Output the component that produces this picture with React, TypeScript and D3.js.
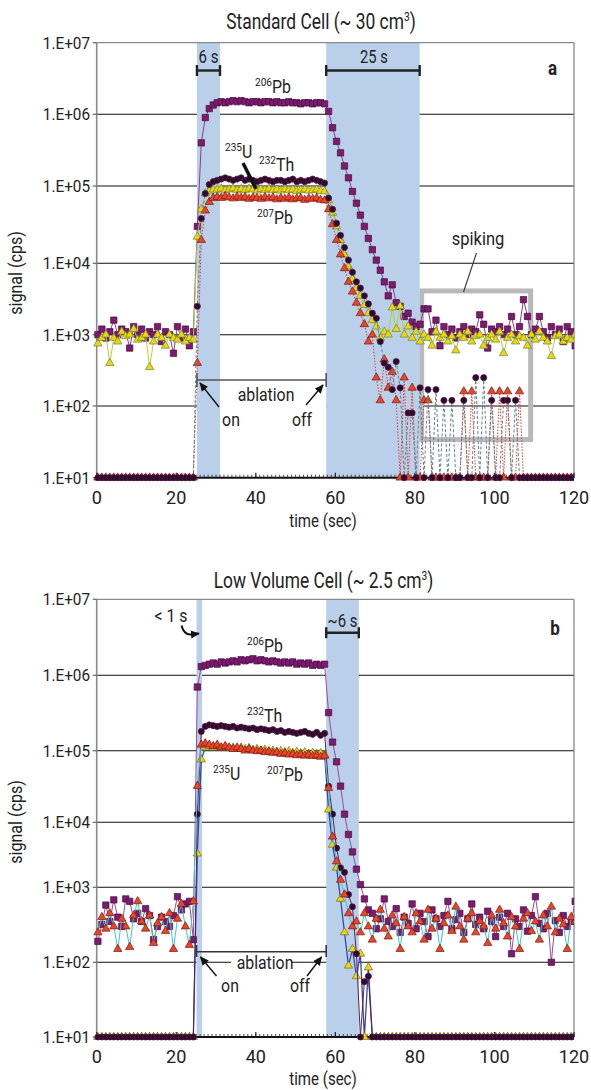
import React from "react";
import * as d3 from "d3";

// ---------- DATA (1 sample per second, first sample at t0 = 0.3 s) ----------
const TIME_STEP = 1;
const TIME_START = 0.3;
const TICKS_X = [0, 20, 40, 60, 80, 100, 120];
const DECADES = [1e1, 1e2, 1e3, 1e4, 1e5, 1e6, 1e7];
const TICK_LABELS_Y = ["1.E+01", "1.E+02", "1.E+03", "1.E+04", "1.E+05", "1.E+06", "1.E+07"];

// Panel a – Standard cell
const PB206_A = [
  1000, 1200, 900, 1100, 1600, 1000, 1200, 1100, 650, 1300,
  1000, 1200, 900, 1100, 1000, 1300, 800, 1100, 1000, 550,
  1300, 900, 1200, 700, 1100, 3.0e4, 4.0e5, 9.0e5, 1.2e6, 1.35e6,
  1.45e6, 1.5e6, 1.45e6, 1.5e6, 1.55e6, 1.5e6, 1.55e6, 1.5e6, 1.45e6, 1.5e6,
  1.5e6, 1.45e6, 1.5e6, 1.5e6, 1.45e6, 1.5e6, 1.45e6, 1.45e6, 1.5e6, 1.45e6,
  1.45e6, 1.4e6, 1.45e6, 1.45e6, 1.4e6, 1.45e6, 1.45e6, 1.4e6, 1.1e6, 6.5e5,
  4.2e5, 2.9e5, 1.9e5, 1.3e5, 8.5e4, 6.0e4, 4.2e4, 3.0e4, 2.1e4, 1.5e4,
  1.1e4, 8.0e3, 5.5e3, 3.5e3, 5.0e3, 2.8e3, 2.5e3, 1.8e3, 2.0e3, 1.5e3,
  1300, 1400, 2300, 2300, 1100, 1600, 700, 1300, 1000, 1200,
  900, 1100, 1300, 1000, 1200, 1100, 1900, 1400, 650, 1200,
  1100, 1300, 1000, 1200, 1800, 1000, 1300, 3100, 1800, 1000,
  1200, 1800, 1100, 900, 1300, 1000, 1200, 800, 1300, 1100,
  700,
];
const U235_A = [
  750, 900, 1000, 400, 900, 800, 1100, 950, 1000, 1200,
  850, 900, 1000, 350, 800, 1000, 900, 700, 1000, 900,
  850, 1000, 800, 900, 850, 2.2e4, 5.0e4, 8.0e4, 8.5e4, 9.0e4,
  9.0e4, 9.2e4, 8.8e4, 9.0e4, 9.3e4, 8.9e4, 9.1e4, 8.8e4, 9.2e4, 9.0e4,
  8.7e4, 9.1e4, 8.9e4, 9.2e4, 8.8e4, 9.0e4, 8.7e4, 9.1e4, 8.8e4, 9.0e4,
  8.6e4, 8.9e4, 9.0e4, 8.7e4, 8.8e4, 9.0e4, 8.6e4, 8.5e4, 6.5e4, 4.5e4,
  3.0e4, 2.0e4, 1.3e4, 9.0e3, 6.0e3, 4.5e3, 3.5e3, 2.6e3, 2.0e3, 1.6e3,
  1300, 900, 1100, 1000, 2400, 1200, 2500, 1000, 1300, 900,
  1100, 800, 1000, 900, 700, 1100, 900, 1000, 800, 950,
  600, 1000, 900, 1100, 800, 950, 1000, 700, 900, 1000,
  850, 1100, 550, 900, 1000, 800, 950, 900, 700, 1000,
  850, 1100, 900, 800, 500, 950, 1000, 800, 900, 850,
  1000,
];
const TH232_A = [
  0, 0, 0, 0, 0, 0, 0, 0, 0, 0,
  0, 0, 0, 0, 0, 0, 0, 0, 0, 0,
  0, 0, 0, 0, 0, 2.5e3, 3.8e4, 8.0e4, 1.05e5, 1.15e5,
  1.2e5, 1.25e5, 1.3e5, 1.25e5, 1.2e5, 1.25e5, 1.3e5, 1.2e5, 1.25e5, 1.2e5,
  1.15e5, 1.2e5, 1.25e5, 1.2e5, 1.15e5, 1.2e5, 1.2e5, 1.15e5, 1.2e5, 1.25e5,
  1.15e5, 1.2e5, 1.15e5, 1.2e5, 1.25e5, 1.2e5, 1.15e5, 1.1e5, 7.0e4, 5.0e4,
  3.3e4, 2.3e4, 1.6e4, 1.1e4, 7.5e3, 5.5e3, 4.5e3, 3.5e3, 2.7e3, 2.0e3,
  1700, 800, 400, 350, 170, 420, 180, 0, 80, 80,
  0, 180, 0, 170, 0, 170, 0, 120, 0, 120,
  0, 0, 120, 0, 0, 250, 0, 250, 0, 120,
  0, 0, 120, 120, 0, 120, 0, 0, 0, 0,
  0, 0, 0, 0, 0, 0, 0, 0, 0, 0,
  0,
];
const PB207_A = [
  0, 0, 0, 0, 0, 0, 0, 0, 0, 0,
  0, 0, 0, 0, 0, 0, 0, 0, 0, 0,
  0, 0, 0, 0, 0, 400, 2.0e4, 4.8e4, 6.2e4, 7.0e4,
  7.2e4, 7.0e4, 7.4e4, 7.1e4, 6.9e4, 7.3e4, 7.0e4, 7.2e4, 6.8e4, 7.1e4,
  7.0e4, 6.8e4, 7.2e4, 6.9e4, 7.1e4, 6.7e4, 7.0e4, 6.8e4, 7.1e4, 6.7e4,
  6.9e4, 7.0e4, 6.6e4, 6.9e4, 6.8e4, 7.0e4, 6.6e4, 6.5e4, 5.0e4, 3.2e4,
  2.0e4, 1.3e4, 8.5e3, 5.5e3, 4.0e3, 2.8e3, 2.0e3, 1.4e3, 800, 1000,
  250, 120, 450, 180, 300, 120, 0, 250, 0, 180,
  0, 0, 120, 120, 0, 0, 0, 0, 0, 0,
  0, 0, 160, 0, 160, 0, 0, 0, 0, 160,
  0, 160, 0, 160, 0, 0, 160, 0, 0, 0,
  0, 0, 0, 0, 0, 0, 0, 0, 0, 0,
  0,
];

// Panel b – Low volume cell
const PB206_B = [
  190, 320, 580, 350, 680, 400, 300, 700, 650, 380,
  450, 350, 520, 420, 200, 300, 400, 350, 300, 420,
  750, 500, 600, 650, 200, 7.0e5, 1.3e6, 1.35e6, 1.4e6, 1.45e6,
  1.4e6, 1.5e6, 1.45e6, 1.5e6, 1.55e6, 1.5e6, 1.6e6, 1.55e6, 1.6e6, 1.65e6,
  1.55e6, 1.6e6, 1.55e6, 1.5e6, 1.55e6, 1.5e6, 1.45e6, 1.5e6, 1.45e6, 1.5e6,
  1.4e6, 1.45e6, 1.4e6, 1.45e6, 1.35e6, 1.4e6, 1.35e6, 1.4e6, 3.2e5, 1.3e5,
  7.0e4, 3.2e4, 1.3e4, 6.5e3, 3.5e3, 1.9e3, 1.1e3, 700, 500, 450,
  280, 380, 700, 350, 300, 520, 250, 400, 330, 600,
  280, 450, 350, 220, 500, 380, 300, 420, 650, 280,
  370, 450, 250, 380, 600, 320, 400, 280, 480, 350,
  220, 400, 300, 450, 130, 380, 300, 500, 260, 420,
  750, 330, 280, 450, 100, 360, 250, 420, 300, 350,
  650,
];
const TH232_B = [
  0, 0, 0, 0, 0, 0, 0, 0, 0, 0,
  0, 0, 0, 0, 0, 0, 0, 0, 0, 0,
  0, 0, 0, 0, 0, 1.3e4, 1.8e5, 2.1e5, 2.2e5, 2.15e5,
  2.1e5, 2.15e5, 2.1e5, 2.05e5, 2.1e5, 2.0e5, 2.05e5, 2.0e5, 1.95e5, 2.0e5,
  1.9e5, 1.95e5, 1.9e5, 1.85e5, 1.9e5, 1.8e5, 1.85e5, 1.75e5, 1.8e5, 1.75e5,
  1.7e5, 1.75e5, 1.8e5, 1.7e5, 1.65e5, 1.75e5, 1.6e5, 1.7e5, 3.2e4, 1.3e4,
  4.0e3, 2.0e3, 1.7e3, 800, 550, 130, 0, 55, 65, 0,
  0, 0, 0, 0, 0, 0, 0, 0, 0, 0,
  0, 0, 0, 0, 0, 0, 0, 0, 0, 0,
  0, 0, 0, 0, 0, 0, 0, 0, 0, 0,
  0, 0, 0, 0, 0, 0, 0, 0, 0, 0,
  0, 0, 0, 0, 0, 0, 0, 0, 0, 0,
  0,
];
const U235_B = [
  0, 0, 0, 0, 0, 0, 0, 0, 0, 0,
  0, 0, 0, 0, 0, 0, 0, 0, 0, 0,
  0, 0, 0, 0, 0, 3.3e3, 7.5e4, 1.1e5, 1.15e5, 1.1e5,
  1.15e5, 1.1e5, 1.12e5, 1.08e5, 1.1e5, 1.05e5, 1.1e5, 1.05e5, 1.08e5, 1.02e5,
  1.05e5, 1.0e5, 1.03e5, 9.8e4, 1.0e5, 9.6e4, 9.9e4, 9.5e4, 9.8e4, 9.3e4,
  9.6e4, 9.2e4, 9.5e4, 9.0e4, 9.3e4, 9.0e4, 9.2e4, 8.8e4, 1.5e4, 4.5e3,
  2.0e3, 700, 250, 90, 150, 65, 130, 0, 85, 0,
  0, 0, 0, 0, 0, 0, 0, 0, 0, 0,
  0, 0, 0, 0, 0, 0, 0, 0, 0, 0,
  0, 0, 0, 0, 0, 0, 0, 0, 0, 0,
  0, 0, 0, 0, 0, 0, 0, 0, 0, 0,
  0, 0, 0, 0, 0, 0, 0, 0, 0, 0,
  0,
];
const PB207_B = [
  250, 400, 280, 450, 300, 150, 380, 300, 160, 420,
  650, 350, 280, 420, 180, 330, 400, 260, 450, 150,
  380, 600, 300, 170, 650, 3.2e4, 1.2e5, 1.25e5, 1.2e5, 1.15e5,
  1.2e5, 1.1e5, 1.15e5, 1.1e5, 1.05e5, 1.1e5, 1.05e5, 1.0e5, 1.05e5, 1.0e5,
  9.8e4, 1.0e5, 9.5e4, 9.7e4, 9.3e4, 9.5e4, 9.0e4, 9.3e4, 8.8e4, 9.0e4,
  8.6e4, 8.9e4, 8.5e4, 8.8e4, 8.4e4, 8.6e4, 8.2e4, 8.5e4, 3.0e4, 6.0e3,
  2.5e3, 1.3e3, 800, 450, 300, 350, 250, 450, 300, 200,
  380, 500, 280, 220, 420, 330, 150, 400, 300, 250,
  450, 350, 200, 500, 280, 380, 150, 330, 420, 260,
  550, 300, 200, 380, 450, 250, 350, 300, 180, 420,
  280, 500, 330, 220, 400, 300, 150, 380, 450, 260,
  350, 200, 420, 300, 550, 250, 380, 320, 150, 400,
  350,
];

// ablation / washout bands (s)
const BANDS_A = [[25.2, 31.0], [57.7, 81.2]];
const BANDS_B = [[25.1, 26.5], [57.7, 65.9]];

// ---------- LAYOUT ----------
const W = 591, H = 1090;
const X0 = 96.7, X1 = 574;
const RANGE_A = [477.7, 406, 334.7, 263.3, 186, 114.3, 42.7];
const RANGE_B = [1037, 962.3, 887.3, 822.3, 750.7, 675.3, 599.3];
const FONT = "Roboto, 'DejaVu Sans', sans-serif";
const BAND_COLOR = "#bad0ea";

const SQ = { shape: "square", size: 40, fill: "#7b1c6e", stroke: "#4a0c40" };
const CI = { shape: "circle", size: 30, fill: "#2d0a27", stroke: "#5a1a52" };
const YT = { shape: "triangle", size: 30, fill: "#f3d40c", stroke: "#5e8a3a" };
const RT = { shape: "triangle", size: 30, fill: "#e8462a", stroke: "#7a1a12" };

function T(props: any) {
  const { x, y, children, size = 17, anchor = "middle", sx = 0.88, weight = 400, fill = "#222", rotate = 0 } = props;
  return (
    <text
      transform={`translate(${x},${y})${rotate ? ` rotate(${rotate})` : ""} scale(${sx},1)`}
      fontSize={size}
      textAnchor={anchor}
      fontFamily={FONT}
      fontWeight={weight}
      fill={fill}
    >
      {children}
    </text>
  );
}

function Iso({ x, y, mass, el, sx = 0.88 }: any) {
  return (
    <text transform={`translate(${x},${y}) scale(${sx},1)`} fontFamily={FONT} fill="#222" fontSize={18}>
      <tspan fontSize={11.5} dy={-7}>{mass}</tspan>
      <tspan dy={7}>{el}</tspan>
    </text>
  );
}

function Series({ values, x, y, st }: any) {
  const pts: [number, number][] = values.map((v: number, i: number) => [
    x(TIME_START + i * TIME_STEP),
    y(Math.max(v, 10)),
  ]);
  const line = d3.line()(pts) || "";
  const type = st.shape === "square" ? d3.symbolSquare : st.shape === "circle" ? d3.symbolCircle : d3.symbolTriangle;
  const sym = d3.symbol().type(type).size(st.size)() || "";
  return (
    <g>
      <path d={line} fill="none" stroke={st.line} strokeWidth={st.lw} strokeDasharray={st.dash} />
      {pts.map(([px, py], i) => (
        <path key={i} d={sym} transform={`translate(${px},${py})`} fill={st.fill} stroke={st.stroke} strokeWidth={0.7} />
      ))}
    </g>
  );
}

function Frame({ x, y, id, bands, children, extraUnder }: any) {
  const yTop = y(1e7), yBot = y(10);
  const minor = d3.range(0, 121, 1);
  return (
    <g>
      <defs>
        <clipPath id={id}>
          <rect x={X0 - 4} y={yTop} width={X1 - X0 + 4} height={yBot - yTop + 5} />
        </clipPath>
      </defs>
      {DECADES.slice(1, 6).map((d) => (
        <line key={d} x1={X0} x2={X1} y1={y(d)} y2={y(d)} stroke="#111" strokeWidth={1.1} />
      ))}
      {extraUnder}
      {bands.map((b: number[], i: number) => (
        <rect key={i} x={x(b[0])} y={yTop} width={x(b[1]) - x(b[0])} height={yBot - yTop} fill={BAND_COLOR} />
      ))}
      <line x1={X0} x2={X1} y1={yTop} y2={yTop} stroke="#8a8a8a" strokeWidth={1.3} />
      <line x1={X1} x2={X1} y1={yTop} y2={yBot} stroke="#8a8a8a" strokeWidth={1.3} />
      <line x1={X0} x2={X0} y1={yTop} y2={yBot} stroke="#8a8a8a" strokeWidth={1.6} />
      {DECADES.map((d) => (
        <line key={"t" + d} x1={X0 - 4} x2={X0} y1={y(d)} y2={y(d)} stroke="#666" strokeWidth={1.2} />
      ))}
      <line x1={X0} x2={X1} y1={yBot} y2={yBot} stroke="#111" strokeWidth={2} />
      {minor.map((t: number) => (
        <line key={"m" + t} x1={x(t)} x2={x(t)} y1={yBot} y2={yBot - 3} stroke="#222" strokeWidth={0.8} />
      ))}
      {TICKS_X.map((t) => (
        <line key={"M" + t} x1={x(t)} x2={x(t)} y1={yBot} y2={yBot - 5} stroke="#222" strokeWidth={1.2} />
      ))}
      {DECADES.map((d, i) => (
        <T key={"l" + d} x={90} y={y(d) + 6} anchor="end" size={17} sx={0.9}>{TICK_LABELS_Y[i]}</T>
      ))}
      {TICKS_X.map((t) => (
        <T key={"x" + t} x={x(t)} y={yBot + 26} size={19} sx={0.95}>{t}</T>
      ))}
      <g clipPath={`url(#${id})`}>{children}</g>
    </g>
  );
}

function Interval({ x1, x2, y }: any) {
  return (
    <g stroke="#222" strokeWidth={2.4}>
      <line x1={x1} x2={x2} y1={y} y2={y} />
      <line x1={x1} x2={x1} y1={y - 5.5} y2={y + 5.5} />
      <line x1={x2} x2={x2} y1={y - 5.5} y2={y + 5.5} />
    </g>
  );
}

export default function App() {
  React.useEffect(() => {
    document.body.style.margin = "0";
  }, []);
  const x = d3.scaleLinear().domain([0, 120]).range([X0, X1]);
  const yA = d3.scaleLog().domain(DECADES).range(RANGE_A);
  const yB = d3.scaleLog().domain(DECADES).range(RANGE_B);
  const arrow = "url(#ah)";

  return (
    <svg width={W} height={H} style={{ position: "absolute", left: 0, top: 0, background: "#fff" }}>
      <defs>
        <marker id="ah" viewBox="0 0 10 10" refX="9" refY="5" markerWidth="9" markerHeight="9" markerUnits="userSpaceOnUse" orient="auto">
          <path d="M0,0.5 L10,5 L0,9.5 z" fill="#111" />
        </marker>
      </defs>
      <rect width={W} height={H} fill="#fff" />

      {/* ================= PANEL A ================= */}
      <T x={321} y={29} size={22} sx={0.79}>
        Standard Cell (~ 30 cm<tspan fontSize={13} dy={-8}>3</tspan><tspan dy={8}>)</tspan>
      </T>
      <Frame
        x={x}
        y={yA}
        id="clipA"
        bands={BANDS_A}
        extraUnder={
          <g>
            <rect x={x(31)} y={384} width={x(57.7) - x(31)} height={48} fill="#fff" />
            <rect x={x(81.7)} y={yA(4.1e3)} width={x(109.1) - x(81.7)} height={yA(34) - yA(4.1e3)} fill="none" stroke="#b9b9bd" strokeWidth={5} />
          </g>
        }
      >
        <Series values={PB206_A} x={x} y={yA} st={{ ...SQ, line: "#8e3d86", lw: 1 }} />
        <Series values={U235_A} x={x} y={yA} st={{ ...YT, line: "#b4cf3a", lw: 1 }} />
        <Series values={PB207_A} x={x} y={yA} st={{ ...RT, line: "#e03a3a", lw: 1, dash: "1.5,1.5" }} />
        <Series values={TH232_A} x={x} y={yA} st={{ ...CI, line: "#5f8585", lw: 1, dash: "3,2" }} />
      </Frame>
      <T x={22} y={273} size={17.5} sx={0.92} rotate={-90}>signal (cps)</T>
      <T x={323} y={527} size={17.5} sx={0.86}>time (sec)</T>

      <Interval x1={x(BANDS_A[0][0])} x2={x(BANDS_A[0][1])} y={70.5} />
      <T x={(x(BANDS_A[0][0]) + x(BANDS_A[0][1])) / 2} y={63} size={18} sx={0.83}>6 s</T>
      <Interval x1={x(BANDS_A[1][0])} x2={x(BANDS_A[1][1])} y={70.5} />
      <T x={374} y={63} size={18} sx={0.82}>25 s</T>
      <T x={552.5} y={75} size={20} sx={0.85} weight={700}>a</T>

      <Iso x={255} y={93} mass="206" el="Pb" />
      <Iso x={225} y={158} mass="235" el="U" />
      <Iso x={259} y={171} mass="232" el="Th" />
      <Iso x={257} y={224} mass="207" el="Pb" />
      <line x1={243} y1={163} x2={256} y2={189} stroke="#111" strokeWidth={3.5} />

      <T x={478} y={245} size={18} sx={0.92}>spiking</T>
      <line x1={476.5} y1={253} x2={463.5} y2={292} stroke="#333" strokeWidth={1.1} />

      <g stroke="#555" strokeWidth={1.6}>
        <line x1={x(BANDS_A[0][0])} x2={x(BANDS_A[1][0])} y1={380} y2={380} />
        <line x1={x(BANDS_A[0][0])} x2={x(BANDS_A[0][0])} y1={373} y2={387} />
        <line x1={x(BANDS_A[1][0])} x2={x(BANDS_A[1][0])} y1={373} y2={387} />
      </g>
      <T x={266} y={401} size={18} sx={0.88}>ablation</T>
      <T x={231} y={426} size={18} sx={0.88}>on</T>
      <T x={302} y={426} size={18} sx={0.88}>off</T>
      <line x1={219} y1={407} x2={200} y2={383} stroke="#111" strokeWidth={1.4} markerEnd={arrow} />
      <line x1={306} y1={405} x2={323} y2={385} stroke="#111" strokeWidth={1.4} markerEnd={arrow} />

      {/* ================= PANEL B ================= */}
      <T x={323.5} y={588} size={22} sx={0.79}>
        Low Volume Cell (~ 2.5 cm<tspan fontSize={13} dy={-8}>3</tspan><tspan dy={8}>)</tspan>
      </T>
      <Frame
        x={x}
        y={yB}
        id="clipB"
        bands={BANDS_B}
        extraUnder={<rect x={231} y={953} width={60} height={19} fill="#fff" />}
      >
        <Series values={PB206_B} x={x} y={yB} st={{ ...SQ, line: "#9d4a98", lw: 1 }} />
        <Series values={U235_B} x={x} y={yB} st={{ ...YT, stroke: "#6a6a2a", line: "#3846a8", lw: 1.3 }} />
        <Series values={TH232_B} x={x} y={yB} st={{ ...CI, line: "#5a2058", lw: 1 }} />
        <Series values={PB207_B} x={x} y={yB} st={{ ...RT, line: "#3ec7c2", lw: 1 }} />
      </Frame>
      <T x={22} y={822} size={17.5} sx={0.92} rotate={-90}>signal (cps)</T>
      <T x={323} y={1085} size={17.5} sx={0.86}>time (sec)</T>

      <T x={171} y={622} size={18} sx={0.88}>&lt; 1 s</T>
      <path d="M181.5,625.5 Q184,635 191,634.5 L199,633.5" fill="none" stroke="#111" strokeWidth={2} markerEnd={arrow} />
      <Interval x1={x(BANDS_B[1][0])} x2={x(BANDS_B[1][1])} y={632.7} />
      <T x={342.5} y={627} size={18} sx={0.83}>~6 s</T>
      <T x={555} y={635} size={20} sx={0.85} weight={700}>b</T>

      <Iso x={247} y={652} mass="206" el="Pb" />
      <Iso x={247} y={722} mass="232" el="Th" />
      <Iso x={213} y={780} mass="235" el="U" />
      <Iso x={267} y={781} mass="207" el="Pb" />

      <g stroke="#333" strokeWidth={1.6}>
        <line x1={x(BANDS_B[0][0])} x2={x(BANDS_B[1][0])} y1={951.7} y2={951.7} />
        <line x1={x(BANDS_B[0][0])} x2={x(BANDS_B[0][0])} y1={945} y2={957} />
        <line x1={x(BANDS_B[1][0])} x2={x(BANDS_B[1][0])} y1={945} y2={957} />
      </g>
      <T x={265} y={969} size={18} sx={0.88}>ablation</T>
      <T x={230} y={992} size={18} sx={0.88}>on</T>
      <T x={300} y={992} size={18} sx={0.88}>off</T>
      <line x1={216.5} y1={976} x2={200.5} y2={957} stroke="#111" strokeWidth={1.4} markerEnd={arrow} />
      <line x1={307} y1={976} x2={321.5} y2={957} stroke="#111" strokeWidth={1.4} markerEnd={arrow} />
    </svg>
  );
}
